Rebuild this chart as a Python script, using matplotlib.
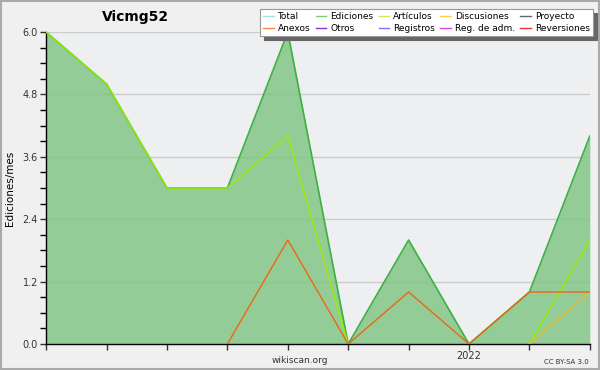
import matplotlib.pyplot as plt
from matplotlib.lines import Line2D
import numpy as np

# monthly values, 2021-04 .. 2022-01 (index 7 = 2022)
months = list(range(10))
ediciones = [6, 5, 3, 3, 6, 0, 2, 0, 1, 4]
articulos = [6, 5, 3, 3, 4, 0, None, None, 0, 2]
anexos = [None, None, None, 0, 2, 0, 1, 0, 1, 1]
discusiones = [None, None, None, None, None, None, None, None, 0, 1]
xtick_labels = ['', '', '', '', '', '', '', '2022', '', '']
yticks = [0.0, 1.2, 2.4, 3.6, 4.8, 6.0]

legend_names = ['Total', 'Ediciones', 'Artículos', 'Discusiones', 'Proyecto',
                'Anexos', 'Otros', 'Registros', 'Reg. de adm.', 'Reversiones']
legend_colors = ['#a8e0dc', '#7ccc7c', '#c8ee55', '#ffcc55', '#666666',
                 '#ff8844', '#8833cc', '#7777ee', '#dd44dd', '#ee3333']


def arr(vals):
    return np.array([np.nan if v is None else v for v in vals], dtype=float)


fig = plt.figure(figsize=(6, 3.7), dpi=100, facecolor='#f0f0f0')
ax = fig.add_axes([0.077, 0.0703, 0.906, 0.843])
ax.set_facecolor('#eeeff1')

ax.set_yticks(yticks)
ax.yaxis.grid(True, color='#cccccc', linewidth=1)
ax.set_axisbelow(True)

x = np.array(months)
ax.fill_between(x, arr(ediciones), color='#7cc47f', alpha=0.8, linewidth=0, zorder=2)
ax.plot(x, arr(ediciones), color='#3cb043', linewidth=1.2, zorder=3)
ax.plot(x, arr(articulos), color='#99ee00', linewidth=1, zorder=4)
ax.plot(x, arr(discusiones), color='#eebb22', linewidth=1, zorder=4)
ax.plot(x, arr(anexos), color='#ee6611', linewidth=1, zorder=5)

ax.set_xlim(0, 9)
ax.set_ylim(0, 6)
ax.set_xticks(months)
ax.set_xticklabels(xtick_labels)
ax.set_yticks(np.arange(0, 6.01, 0.3), minor=True)
ax.set_yticklabels(['%.1f' % v for v in yticks])
ax.tick_params(axis='both', labelsize=7, colors='#333333', length=4, width=1, pad=2)
ax.tick_params(axis='y', which='minor', length=4, width=1)
ax.tick_params(axis='x', pad=1)
for s in ['top', 'right']:
    ax.spines[s].set_visible(False)
ax.spines['left'].set_linewidth(1)
ax.spines['bottom'].set_linewidth(1)

ax.set_ylabel('Ediciones/mes', fontsize=7.5)
ax.yaxis.set_label_coords(-0.058, 0.5)
fig.text(0.17, 0.955, 'Vicmg52', fontsize=10, fontweight='bold', ha='left', va='center')
fig.text(0.5, 0.027, 'wikiscan.org', fontsize=6.5, ha='center', va='center', color='#333333')
fig.text(0.982, 0.022, 'CC BY-SA 3.0', fontsize=5, ha='right', va='center', color='#333333')

# legend, filled row by row
order = [0, 5, 1, 6, 2, 7, 3, 8, 4, 9]
handles = [Line2D([], [], color=legend_colors[i], linewidth=1) for i in order]
labels = [legend_names[i] for i in order]
leg = fig.legend(handles, labels, ncol=5, loc='upper right', bbox_to_anchor=(0.988, 0.975),
                 fontsize=6.5, frameon=True, fancybox=False,
                 shadow={'color': '#666666', 'alpha': 1, 'ox': 3, 'oy': -3},
                 handlelength=1.2, handletextpad=0.4, columnspacing=0.6, labelspacing=0.25,
                 borderpad=0.35, borderaxespad=0)
leg.get_frame().set_edgecolor('#999999')
leg.get_frame().set_linewidth(0.8)

# outer border
fig.patches.append(plt.Rectangle((0.002, 0.003), 0.996, 0.994, transform=fig.transFigure,
                                 fill=False, edgecolor='#aaaaaa', linewidth=1.5))

fig.savefig('out.png', dpi=100, facecolor=fig.get_facecolor())
